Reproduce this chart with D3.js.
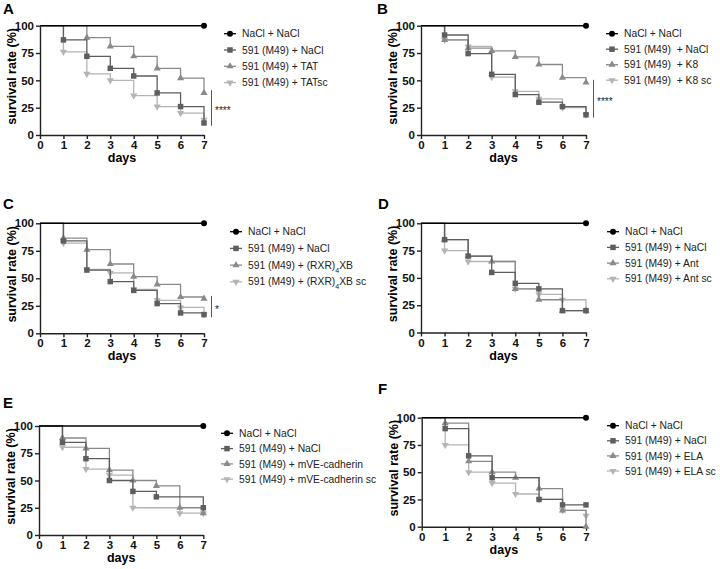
<!DOCTYPE html>
<html>
<head>
<meta charset="utf-8">
<style>
body { margin: 0; background: #fff; }
svg { font-family: Arial, "Liberation Sans", Helvetica, sans-serif; }
.axis path, .axis line { stroke: #222; stroke-width: 1.4px; }
.axis text { font-weight: bold; font-size: 11.5px; fill: #111; }
.leg text { font-size: 10.3px; fill: #222; white-space: pre; }
</style>
</head>
<body>
<script src="https://d3js.org/d3.v7.min.js"></script>
<script>
// days on the x axis
var days = [0, 1, 2, 3, 4, 5, 6, 7];
var yTicks = [0, 25, 50, 75, 100];

// survival (%) per day
var nacl = [100, 100, 100, 100, 100, 100, 100, 100];

var sqA  = [100, 87, 72, 61, 54, 38.5, 26, 11];
var triA = [100, 100, 89, 81, 72, 61, 52, 38.5];
var trdA = [100, 76, 56, 50, 36, 26, 20, 14];

var sqB  = [100, 91.5, 74.5, 55.5, 37, 30, 26, 18.5];
var triB = [100, 87, 79.5, 77, 71.5, 64.5, 52.5, 48];
var trdB = [100, 87, 81, 53, 40, 33, 25, 18.5];

var sqC  = [100, 84, 57.5, 47, 39, 27, 18.5, 17];
var triC = [100, 86.5, 76, 63, 51.5, 44.5, 33, 31.5];
var trdC = [100, 82, 58, 55, 40, 30, 23.5, 17];

var sqD  = [100, 85, 70, 55, 45, 40, 20, 20];
var triD = [100, 85, 70, 65, 40, 30, 20, 20];
var trdD = [100, 75, 65, 65, 40, 35, 30, 20];

var sqE  = [100, 85, 70, 50, 40, 35, 35, 25];
var triE = [100, 89, 79.5, 59.5, 50, 45, 25, 20];
var trdE = [100, 80.5, 60.5, 55, 25, 25, 20, 20];

var sqF  = [100, 90, 65, 45, 45, 25, 20, 20];
var triF = [100, 95, 60, 50, 45, 35, 15, 0];
var trdF = [100, 75, 50, 40, 30, 25, 15, 10];

var legA = ["NaCl + NaCl", "591 (M49) + NaCl", "591 (M49) + TAT", "591 (M49) + TATsc"];
var legB = ["NaCl + NaCl", "591 (M49)  + NaCl", "591 (M49)  + K8", "591 (M49)  + K8 sc"];
var legC = ["NaCl + NaCl", "591 (M49) + NaCl", "591 (M49) + (RXR)_4XB", "591 (M49) + (RXR)_4XB sc"];
var legD = ["NaCl + NaCl", "591 (M49) + NaCl", "591 (M49) + Ant", "591 (M49) + Ant sc"];
var legE = ["NaCl + NaCl", "591 (M49) + NaCl", "591 (M49) + mVE-cadherin", "591 (M49) + mVE-cadherin sc"];
var legF = ["NaCl + NaCl", "591 (M49) + NaCl", "591 (M49) + ELA", "591 (M49) + ELA sc"];

var colors = ["#000", "#5e5e5e", "#8a8a8a", "#b4b4b4"];
var shapes = ["circle", "square", "up", "down"];

// panel placement on the page
var panels = [
  {letter: "A", lp: [3, 14],   xr: [40, 204],    yr: [135, 25.7],   leg: [224, 33.7, 16.3], labels: legA, series: [nacl, sqA, triA, trdA], sig: "****"},
  {letter: "B", lp: [377, 14], xr: [421, 586],   yr: [135, 25.7],   leg: [606, 33.7, 15.5], labels: legB, series: [nacl, sqB, triB, trdB], sig: "****"},
  {letter: "C", lp: [3, 209],  xr: [40, 204],    yr: [333.3, 223.3], leg: [230, 231.7, 16.7], labels: legC, series: [nacl, sqC, triC, trdC], sig: "*"},
  {letter: "D", lp: [378, 209], xr: [421, 586],  yr: [332.5, 223.3], leg: [607, 231.7, 15.7], labels: legD, series: [nacl, sqD, triD, trdD]},
  {letter: "E", lp: [3, 408],  xr: [39, 203.3],  yr: [535, 426],     leg: [221, 433.3, 15.3], labels: legE, series: [nacl, sqE, triE, trdE]},
  {letter: "F", lp: [378, 394], xr: [421.7, 586], yr: [526.7, 417.7], leg: [607, 425.7, 15.1], labels: legF, series: [nacl, sqF, triF, trdF]}
];

var svg = d3.select("body").append("svg")
    .attr("width", 720)
    .attr("height", 569);

function symbolPath(shape) {
  var t = shape == "circle" ? d3.symbolCircle : shape == "square" ? d3.symbolSquare : d3.symbolTriangle;
  var size = shape == "circle" ? 28 : shape == "square" ? 30 : 22;
  return d3.symbol().type(t).size(size)();
}

function drawMarker(g, shape, color, x, y) {
  g.append("path")
    .attr("d", symbolPath(shape))
    .attr("fill", color)
    .attr("transform", "translate(" + x + "," + y + ")" + (shape == "down" ? " rotate(180)" : ""));
}

function setLabel(text, s) {
  // "_4" -> subscript 4
  var parts = s.split(/_(\d)/);
  parts.forEach(function(p, i) {
    if (!p) return;
    var t = text.append("tspan").text(p);
    if (i % 2 == 1) t.attr("baseline-shift", "sub").style("font-size", "7px");
  });
}

panels.forEach(function(p) {
  var x = d3.scaleLinear().domain([0, 7]).range(p.xr);
  var y = d3.scaleLinear().domain([0, 100]).range(p.yr);
  var g = svg.append("g");

  // panel letter
  g.append("text")
    .attr("x", p.lp[0]).attr("y", p.lp[1])
    .style("font-weight", "bold").style("font-size", "15px")
    .text(p.letter);

  // axes
  g.append("g").attr("class", "axis")
    .attr("transform", "translate(0," + p.yr[0] + ")")
    .call(d3.axisBottom(x).tickValues(days).tickFormat(d3.format("d"))
      .tickSize(4).tickSizeOuter(0).tickPadding(2));
  g.append("g").attr("class", "axis")
    .attr("transform", "translate(" + p.xr[0] + ",0)")
    .call(d3.axisLeft(y).tickValues(yTicks).tickFormat(d3.format("d"))
      .tickSize(4).tickSizeOuter(0).tickPadding(2));

  g.append("text")
    .attr("x", (p.xr[0] + p.xr[1]) / 2)
    .attr("y", p.yr[0] + 27)
    .attr("text-anchor", "middle")
    .style("font-weight", "bold").style("font-size", "12.5px")
    .text("days");

  g.append("text")
    .attr("transform", "translate(" + (p.xr[0] - 28) + "," + ((p.yr[0] + p.yr[1]) / 2 - 4) + ") rotate(-90)")
    .attr("text-anchor", "middle")
    .attr("dominant-baseline", "central")
    .style("font-weight", "bold").style("font-size", "12.5px")
    .text("survival rate (%)");

  var line = d3.line()
    .x(function(d, i) { return x(days[i]); })
    .y(function(d) { return y(d); })
    .curve(d3.curveStepAfter);

  // lighter groups first, NaCl on top
  [3, 2, 1, 0].forEach(function(k) {
    var vals = p.series[k];
    g.append("path")
      .datum(vals)
      .attr("fill", "none")
      .attr("stroke", colors[k])
      .attr("stroke-width", k == 0 ? 1.6 : 1.3)
      .attr("d", line);
    vals.forEach(function(v, i) {
      if (i == 0) return;
      if (v < vals[i - 1] || i == vals.length - 1) {
        drawMarker(g, shapes[k], colors[k], x(days[i]), y(v));
      }
    });
  });

  // significance bar between treated and untreated
  if (p.sig) {
    var a = p.series[1][7], b = p.series[2][7];
    var top = Math.max(a, b) + 2.5, bot = Math.min(a, b) - 2.5;
    var bx = p.xr[1] + 7.5;
    g.append("line")
      .attr("x1", bx).attr("x2", bx)
      .attr("y1", y(top)).attr("y2", y(bot))
      .attr("stroke", "#555").attr("stroke-width", 1);
    g.append("text")
      .attr("x", bx + 3.5)
      .attr("y", y((top + bot) / 2) + 6)
      .style("font-size", "10px")
      .attr("fill", "#222")
      .text(p.sig);
  }

  // legend
  var leg = g.append("g").attr("class", "leg");
  p.labels.forEach(function(lab, k) {
    var ly = p.leg[1] + k * p.leg[2];
    leg.append("line")
      .attr("x1", p.leg[0]).attr("x2", p.leg[0] + 12)
      .attr("y1", ly).attr("y2", ly)
      .attr("stroke", colors[k]).attr("stroke-width", 1.3);
    drawMarker(leg, shapes[k], colors[k], p.leg[0] + 6, ly);
    var t = leg.append("text")
      .attr("x", p.leg[0] + 18)
      .attr("y", ly)
      .attr("dy", "0.35em");
    setLabel(t, lab);
  });
});
</script>
</body>
</html>
